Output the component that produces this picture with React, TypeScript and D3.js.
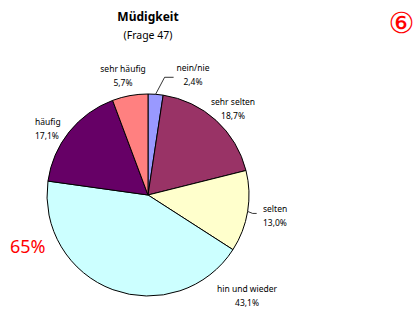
import * as d3 from "d3";

const categories = ["nein/nie", "sehr selten", "selten", "hin und wieder", "häufig", "sehr häufig"];
const shares = [2.4, 18.7, 13.0, 43.1, 17.1, 5.7];
const shareLabels = ["2,4%", "18,7%", "13,0%", "43,1%", "17,1%", "5,7%"];
const colors = ["#9999ff", "#993366", "#ffffcc", "#ccffff", "#660066", "#ff8080"];

// label anchors (label x, name baseline y, anchor)
const labelPos: [number, number, string][] = [
  [193, 71, "middle"],
  [233, 105, "middle"],
  [263, 212, "start"],
  [247, 292, "middle"],
  [35, 125, "start"],
  [123, 72, "middle"],
];

export default function App() {
  const W = 414, H = 311;
  const cx = 148, cy = 195, r = 101;
  const font = "'Noto Sans', 'DejaVu Sans', sans-serif";

  const pie = d3.pie<number>().sort(null).value(d => d);
  const arcs = pie(shares);
  const arc = d3.arc<d3.PieArcDatum<number>>().innerRadius(0).outerRadius(r);

  // leader lines from slice edge to label
  const edge = (i: number): [number, number] => {
    const m = (arcs[i].startAngle + arcs[i].endAngle) / 2;
    return [cx + r * Math.sin(m), cy - r * Math.cos(m)];
  };
  const p0 = edge(0);
  const p2 = edge(2);

  return (
    <svg width={W} height={H} style={{ position: "absolute", left: 0, top: 0, background: "#fff" }}>
      <text x={148} y={21} textAnchor="middle" fontFamily={font} fontWeight="bold" fontSize={12}>Müdigkeit</text>
      <text x={148} y={39} textAnchor="middle" fontFamily={font} fontSize={10.5}>(Frage 47)</text>
      <text x={401.5} y={33} textAnchor="middle" fontFamily="'DejaVu Sans', sans-serif" fontSize={29} fill="#ff0000">⑥</text>
      <g transform={`translate(${cx},${cy})`}>
        {arcs.map((a, i) => (
          <path key={categories[i]} d={arc(a) ?? ""} fill={colors[i]} stroke="#000" strokeWidth={1} />
        ))}
      </g>
      <polyline points={`${p0[0]},${p0[1]} ${p0[0] + 9},${p0[1] - 17} ${p0[0] + 18},${p0[1] - 17}`} fill="none" stroke="#000" strokeWidth={0.8} />
      <polyline points={`${p2[0]},${p2[1]} ${p2[0] + 5},${p2[1] + 2} ${p2[0] + 9},${p2[1] + 2}`} fill="none" stroke="#000" strokeWidth={0.8} />
      {labelPos.map(([x, y, anchor], i) => (
        <g key={categories[i]} fontFamily={font} fontSize={8.5} fill="#000">
          <text x={x} y={y} textAnchor={anchor}>{categories[i]}</text>
          <text x={x} y={y + 14} textAnchor={anchor}>{shareLabels[i]}</text>
        </g>
      ))}
      <text x={10} y={253} fontFamily={font} fontSize={18} fill="#ff0000">65%</text>
    </svg>
  );
}
